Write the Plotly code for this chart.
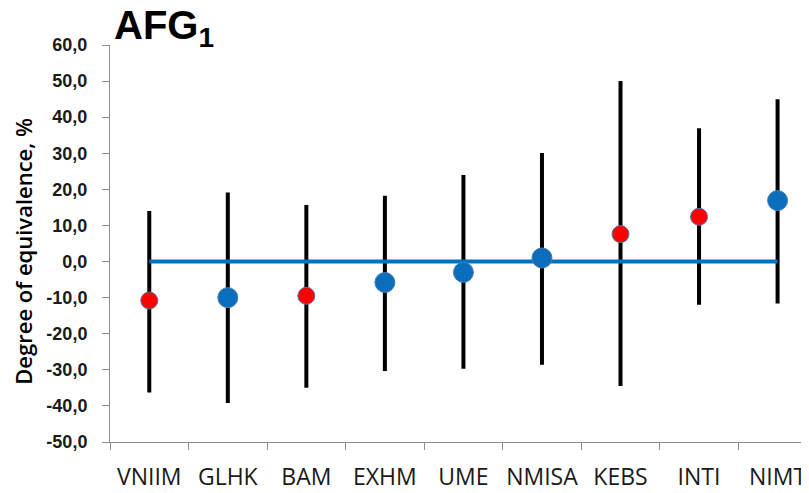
import plotly.graph_objects as go

labs = ["VNIIM", "GLHK", "BAM", "EXHM", "UME", "NMISA", "KEBS", "INTI", "NIMT"]
doe = [-10.8, -10.0, -9.5, -5.8, -3.0, 1.0, 7.6, 12.4, 16.9]
upper = [14.0, 19.1, 15.7, 18.2, 24.0, 30.1, 50.0, 36.9, 45.0]
lower = [-36.3, -39.2, -35.0, -30.3, -29.7, -28.6, -34.5, -12.0, -11.6]
is_red = [True, False, True, False, False, False, True, True, False]
ref_line = [0, 0, 0, 0, 0, 0, 0, 0, 0]
yticks = [60, 50, 40, 30, 20, 10, 0, -10, -20, -30, -40, -50]
yticktext = ["60,0", "50,0", "40,0", "30,0", "20,0", "10,0", "0,0", "-10,0", "-20,0", "-30,0", "-40,0", "-50,0"]

err_plus = [u - d for u, d in zip(upper, doe)]
err_minus = [d - l for d, l in zip(doe, lower)]

fig = go.Figure()

# error bars (invisible markers carrying the bars)
fig.add_trace(go.Scatter(
    x=labs, y=doe, mode="markers",
    marker=dict(size=1, color="rgba(0,0,0,0)"),
    error_y=dict(type="data", symmetric=False, array=err_plus, arrayminus=err_minus,
                 color="black", thickness=4, width=0),
    showlegend=False, hoverinfo="skip"))

# reference line
fig.add_trace(go.Scatter(x=labs, y=ref_line, mode="lines",
                         line=dict(color="#0070C0", width=4), showlegend=False))

# blue markers
bx = [l for l, r in zip(labs, is_red) if not r]
by = [d for d, r in zip(doe, is_red) if not r]
fig.add_trace(go.Scatter(x=bx, y=by, mode="markers",
                         marker=dict(size=20, color="#0A6EBD", line=dict(color="#4A7FB5", width=1)),
                         showlegend=False))
# red markers
rx = [l for l, r in zip(labs, is_red) if r]
ry = [d for d, r in zip(doe, is_red) if r]
fig.add_trace(go.Scatter(x=rx, y=ry, mode="markers",
                         marker=dict(size=17, color="#FF0000", line=dict(color="#5A6FA8", width=1)),
                         showlegend=False))

fig.update_layout(
    width=809, height=493,
    margin=dict(l=102, r=8, t=37, b=59),
    paper_bgcolor="white", plot_bgcolor="white",
    font=dict(family="Liberation Sans, Arial, sans-serif", color="black"),
    xaxis=dict(type="category", range=[-0.5, 8.4], showgrid=False, automargin=False,
               showline=True, linecolor="#8C8C8C", linewidth=1, tickangle=0,
               ticks="outside", tickson="boundaries", ticklen=7, tickcolor="#8C8C8C",
               ticklabelstandoff=14,
               tickfont=dict(family="Open Sans, Liberation Sans, sans-serif", size=23, color="#1a1a1a"),
               zeroline=False),
    yaxis=dict(range=[-50, 60], tickvals=yticks, ticktext=yticktext, showgrid=False, automargin=False,
               showline=True, linecolor="#8C8C8C", linewidth=1, ticklabelstandoff=11,
               ticks="outside", ticklen=7, tickcolor="#8C8C8C",
               tickfont=dict(family="Liberation Sans, Arial, sans-serif", size=18, color="#1a1a1a", weight="bold"),
               zeroline=False),
    annotations=[
        dict(text="Degree of equivalence, %", textangle=-90,
             xref="paper", yref="paper", x=-0.124, y=0.48,
             xanchor="center", yanchor="middle", showarrow=False,
             font=dict(family="Open Sans, Liberation Sans, sans-serif", size=22, color="black", weight=600)),
        dict(text="<b>AFG<sub>1</sub></b>",
             xref="paper", yref="paper", x=0.003, y=0.975,
             xanchor="left", yanchor="bottom", showarrow=False,
             font=dict(family="Liberation Sans, Arial, sans-serif", size=40, color="black")),
    ],
)

fig.write_html("out.html")
